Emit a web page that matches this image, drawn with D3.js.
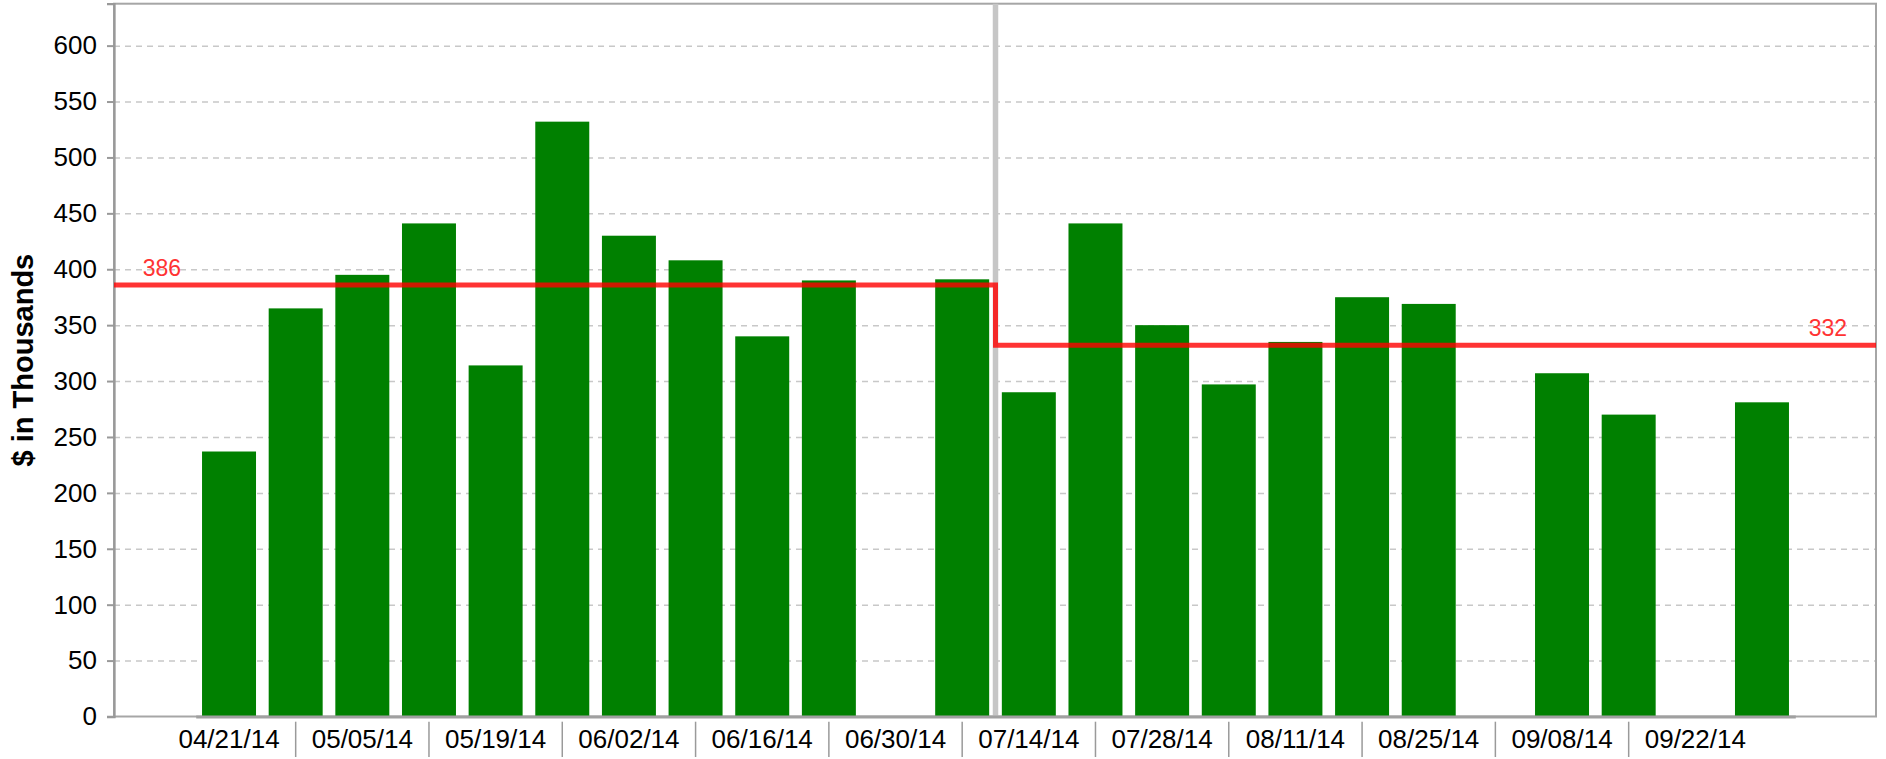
<!DOCTYPE html>
<html>
<head>
<meta charset="utf-8">
<script src="https://cdn.jsdelivr.net/npm/d3@7"></script>
<style>
  html, body { margin: 0; padding: 0; background: #fff; }
  svg { display: block; font-family: "Liberation Sans", Arial, sans-serif; }
</style>
</head>
<body>
<svg id="chart" width="1886" height="759"></svg>
<script>
// ---- data ----
const weeks = ["04/21/14","04/28/14","05/05/14","05/12/14","05/19/14","05/26/14",
               "06/02/14","06/09/14","06/16/14","06/23/14","06/30/14","07/07/14",
               "07/14/14","07/21/14","07/28/14","08/04/14","08/11/14","08/18/14",
               "08/25/14","09/01/14","09/08/14","09/15/14","09/22/14","09/29/14"];
const values = [237, 365, 395, 441, 314, 532, 430, 408, 340, 390, null, 391,
                290, 441, 350, 297, 335, 375, 369, null, 307, 270, null, 281];
const tickLabels = ["04/21/14","05/05/14","05/19/14","06/02/14","06/16/14","06/30/14",
                    "07/14/14","07/28/14","08/11/14","08/25/14","09/08/14","09/22/14"];
const yTicks = [0, 50, 100, 150, 200, 250, 300, 350, 400, 450, 500, 550, 600];
const avgValues = [386, 332];           // period averages
const avgLabels = ["386", "332"];
const splitWeek = "07/14/14";           // first week of second period
const yTitle = "$ in Thousands";

// ---- layout ----
const svg = d3.select("#chart");
const plotLeft = 114, plotRight = 1876, plotTop = 3.7, plotBottom = 716.5;

const x = d3.scaleBand().domain(weeks).range([195.7, 1795.3])
  .paddingInner(0.19).paddingOuter(0.095);
const y = d3.scaleLinear().domain([0, 637.5]).range([plotBottom, plotTop]);
const bw = x.bandwidth();
const step = x.step();
const center = d => x(d) + bw / 2;

// grid lines
const grid = svg.append("g").attr("transform", `translate(${plotLeft},0)`)
  .call(d3.axisLeft(y).tickValues(yTicks.filter(v => v > 0)).tickSize(-(plotRight - plotLeft)).tickFormat(""));
grid.select(".domain").remove();
grid.selectAll("line").attr("stroke", "#c8c8c8").attr("stroke-width", 1.5).attr("stroke-dasharray", "6,5");

// plot frame
svg.append("rect")
  .attr("x", plotLeft).attr("y", plotTop)
  .attr("width", plotRight - plotLeft).attr("height", plotBottom - plotTop)
  .attr("fill", "none").attr("stroke", "#a6a6a6").attr("stroke-width", 2);

// split line
const splitX = x(splitWeek) - (step - bw) / 2;
svg.append("line")
  .attr("x1", splitX).attr("x2", splitX)
  .attr("y1", plotTop).attr("y2", plotBottom)
  .attr("stroke", "#c6c6c6").attr("stroke-width", 5.5);

// bars
svg.append("g").selectAll("rect")
  .data(weeks.map((w, i) => ({ w, v: values[i] })).filter(d => d.v != null))
  .join("rect")
  .attr("x", d => x(d.w))
  .attr("y", d => y(d.v))
  .attr("width", bw)
  .attr("height", d => y(0) - y(d.v))
  .attr("fill", "#008000");

// x axis
const xAxis = svg.append("g").attr("transform", `translate(0,${plotBottom})`)
  .call(d3.axisBottom(x).tickValues(tickLabels).tickSize(0).tickPadding(13.5));
xAxis.select(".domain").attr("stroke", "#a0a0a0").attr("stroke-width", 3);
xAxis.selectAll("text").attr("font-size", 26).attr("fill", "#000")
  .attr("font-family", "Liberation Sans, Arial, sans-serif");

// separators between label cells
const sepWeeks = weeks.filter((w, i) => i % 2 === 1 && i < weeks.length - 1);
svg.append("g").selectAll("line").data(sepWeeks).join("line")
  .attr("x1", d => center(d)).attr("x2", d => center(d))
  .attr("y1", 721.7).attr("y2", 757)
  .attr("stroke", "#9a9a9a").attr("stroke-width", 1.5);

// y axis
const yAxis = svg.append("g").attr("transform", `translate(${plotLeft},0)`)
  .call(d3.axisLeft(y).tickValues(yTicks).tickSize(7).tickPadding(10));
yAxis.select(".domain").attr("stroke", "#999").attr("stroke-width", 2.3);
yAxis.selectAll(".tick line").attr("stroke", "#999").attr("stroke-width", 2);
yAxis.selectAll("text").attr("font-size", 26).attr("fill", "#000")
  .attr("font-family", "Liberation Sans, Arial, sans-serif");

// y title
svg.append("text")
  .attr("transform", `translate(33,${(plotTop + plotBottom) / 2}) rotate(-90)`)
  .attr("text-anchor", "middle")
  .attr("font-size", 29).attr("font-weight", "bold").attr("fill", "#000")
  .text(yTitle);

// average step line
const avgPts = [[plotLeft, avgValues[0]], [splitX, avgValues[1]], [plotRight, avgValues[1]]];
svg.append("path")
  .attr("d", d3.line().x(d => d[0]).y(d => y(d[1])).curve(d3.curveStepAfter)(avgPts))
  .attr("fill", "none").attr("stroke", "red").attr("stroke-opacity", 0.8)
  .attr("stroke-width", 5);

svg.append("text")
  .attr("x", plotLeft + 28.7).attr("y", y(avgValues[0]) - 9)
  .attr("font-size", 23).attr("fill", "#ff3333")
  .text(avgLabels[0]);
svg.append("text")
  .attr("x", plotRight - 29).attr("y", y(avgValues[1]) - 9)
  .attr("text-anchor", "end")
  .attr("font-size", 23).attr("fill", "#ff3333")
  .text(avgLabels[1]);
</script>
</body>
</html>
